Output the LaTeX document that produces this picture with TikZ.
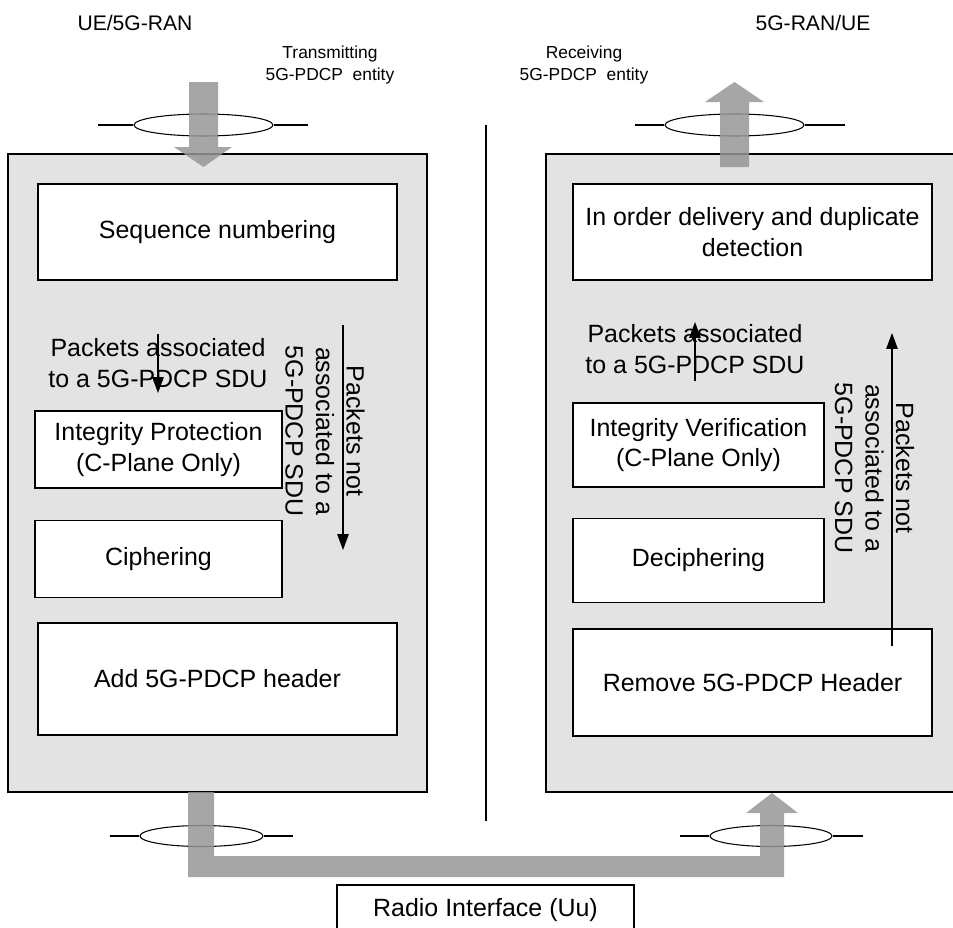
\documentclass[tikz,border=0pt]{standalone}
\usepackage{fontspec}
\setmainfont{Liberation Sans}
\usetikzlibrary{arrows.meta,positioning,shapes.geometric}
\definecolor{panelgray}{HTML}{E3E3E3}
\definecolor{flowgray}{HTML}{969696}
\newcommand{\pdcpfont}{\fontsize{14.2pt}{17.4pt}\selectfont}
\newcommand{\sidefont}{\fontsize{12pt}{14pt}\selectfont}
\newcommand{\tagfont}{\fontsize{9.9pt}{12.5pt}\selectfont}

\begin{document}
\begin{tikzpicture}[
  x=0.02cm, y=-0.02cm,
  entity/.style={draw, line width=0.7pt, fill=panelgray, minimum width=#1, minimum height=12.76cm, inner sep=0pt},
  func/.style 2 args={draw, line width=0.7pt, fill=white, align=center, font=\pdcpfont, inner sep=0pt, minimum width=#1, minimum height=#2},
  flowtext/.style={align=center, font=\pdcpfont, inner sep=0pt},
  tag/.style={align=center, font=\tagfont, inner sep=0pt},
  bearer/.style={draw, ellipse, line width=0.6pt, inner sep=0pt, minimum width=#1, minimum height=0.44cm},
  flow/.style={-{Triangle[length=9pt, width=6.5pt]}, line width=0.6pt},
  pipe/.style={fill=flowgray, fill opacity=0.85},
]
  \useasboundingbox (0,0) rectangle (953,927);

  % the two 5G-PDCP entities
  \node[entity=8.38cm] (tx) at (217.5,473) {};
  \node[entity=8.2cm]  (rx) at (751,473) {};

  \node[font=\sidefont, inner sep=0pt] (ue)  at (135,23) {UE/5G-RAN};
  \node[font=\sidefont, inner sep=0pt] (ran) at (813,23) {5G-RAN/UE};
  \node[tag] (txname) at (330,65) {Transmitting\\5G-PDCP\ \ entity};
  \node[tag] (rxname) at (584,65) {Receiving\\5G-PDCP\ \ entity};

  % transmitting side
  \node[func={7.18cm}{1.92cm}] (seq)    at (217.5,232) {Sequence numbering};
  \node[func={4.94cm}{1.54cm}] (integ)  at (158.5,449.5) {Integrity Protection\\(C-Plane Only)};
  \node[func={4.94cm}{1.54cm}, below=0.62cm of integ] (cipher) {Ciphering};
  \node[func={7.18cm}{2.24cm}] (addhdr) at (217.5,679) {Add 5G-PDCP header};

  \node[flowtext] (txpkt) at (158,363) {Packets associated\\to a 5G-PDCP SDU};
  \node[flowtext, rotate=-90] (txnot) at (325,431) {Packets not\\associated to a\\5G-PDCP SDU};

  % receiving side
  \node[func={7.18cm}{1.92cm}] (order)    at (752.5,232) {In order delivery and duplicate\\detection};
  \node[func={5.02cm}{1.68cm}] (intver)   at (698.5,445) {Integrity Verification\\(C-Plane Only)};
  \node[func={5.02cm}{1.68cm}, below=0.6cm of intver] (decipher) {Deciphering};
  \node[func={7.18cm}{2.14cm}] (rmhdr)    at (752.5,682.5) {Remove 5G-PDCP Header};

  \node[flowtext] (rxpkt) at (695,349) {Packets associated\\to a 5G-PDCP SDU};
  \node[flowtext, rotate=-90] (rxnot) at (874.5,468) {Packets not\\associated to a\\5G-PDCP SDU};

  \node[func={5.94cm}{1.0cm}] (radio) at (485.5,910) {Radio Interface (Uu)};

  % thin flow arrows
  \coordinate (txpkt in)  at (158,334);
  \coordinate (txpkt out) at (158,393);
  \coordinate (txnot in)  at (343,325);
  \coordinate (txnot out) at (343,550);
  \coordinate (rxpkt in)  at (695,381);
  \coordinate (rxpkt out) at (695,322);
  \coordinate (rxnot in)  at (892,646);
  \coordinate (rxnot out) at (892,333);
  \draw[flow] (txpkt in) -- (txpkt out);
  \draw[flow] (txnot in) -- (txnot out);
  \draw[flow] (rxpkt in) -- (rxpkt out);
  \draw[flow] (rxnot in) -- (rxnot out);

  \coordinate (divtop) at (486,125);
  \coordinate (divbot) at (486,821);
  \draw[line width=0.6pt] (divtop) -- (divbot);

  % service access points
  \node[bearer=2.78cm] (sap tx) at (203.5,125) {};
  \node[bearer=2.78cm] (sap rx) at (734.5,125) {};
  \node[bearer=2.46cm, minimum height=0.42cm] (phy tx) at (201.5,836) {};
  \node[bearer=2.44cm, minimum height=0.42cm] (phy rx) at (771,836) {};
  \draw[line width=0.6pt] (sap tx.west) -- ++(-35,0);
  \draw[line width=0.6pt] (sap tx.east) -- ++(34,0);
  \draw[line width=0.6pt] (sap rx.west) -- ++(-29,0);
  \draw[line width=0.6pt] (sap rx.east) -- ++(40,0);
  \draw[line width=0.6pt] (phy tx.west) -- ++(-29,0);
  \draw[line width=0.6pt] (phy tx.east) -- ++(29,0);
  \draw[line width=0.6pt] (phy rx.west) -- ++(-29,0);
  \draw[line width=0.6pt] (phy rx.east) -- ++(30,0);

  % wide data path
  \fill[pipe] (189,82) -- (218,82) -- (218,147) -- (232,147) -- (203.5,167)
    -- (174,147) -- (189,147) -- cycle;
  \fill[pipe] (720,167) -- (749,167) -- (749,102) -- (764,102) -- (734.5,82)
    -- (705,102) -- (720,102) -- cycle;
  \fill[pipe] (188,792) -- (214,792) -- (214,856) -- (760,856) -- (760,813)
    -- (746,813) -- (772,793) -- (798,813) -- (784,813) -- (784,877)
    -- (188,877) -- cycle;
\end{tikzpicture}
\end{document}
